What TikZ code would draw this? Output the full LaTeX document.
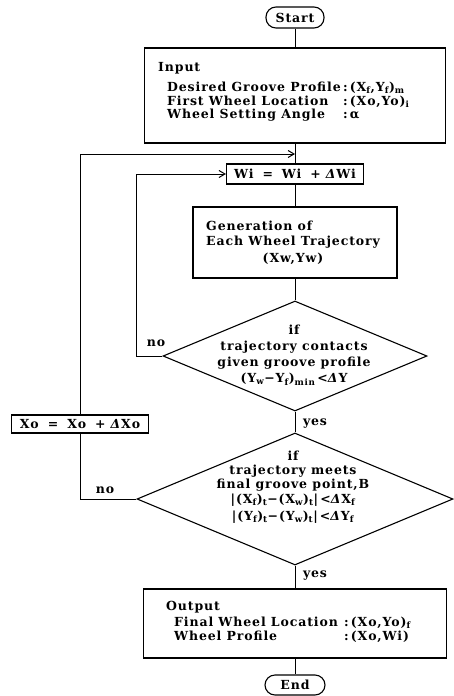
\documentclass[tikz,border=0pt]{standalone}
\usepackage{fontspec}
\setmainfont{DejaVu Serif}[LetterSpace=7]
\usetikzlibrary{shapes.geometric,arrows.meta,positioning}

\tikzset{
  chart/.style={font=\bfseries\fontsize{12.5}{15}\selectfont},
  box/.style={draw, line width=1.1pt, inner sep=0pt},
  term/.style={box, rounded corners=10pt},
  decide/.style={draw, line width=1.1pt, diamond, inner sep=0pt},
  txt/.style={inner sep=0pt, text height=9pt, text depth=2.5pt},
  link/.style={line width=1pt},
  back/.style={link, -{Straight Barb[length=6pt,width=7pt]}},
}

\begin{document}
\begin{tikzpicture}[x=1pt, y=-1pt, chart]
  \useasboundingbox (0,0) rectangle (454,696);

  % terminals and boxes
  \node[term, minimum width=58pt, minimum height=21pt] (start) at (295,17.5) {Start};
  \node[box, minimum width=301pt, minimum height=95pt] (input) at (295,95.5) {};
  \node[box, minimum width=137pt, minimum height=20pt] (wi) at (295,174) {Wi\hspace{9pt}=\hspace{9pt}Wi\hspace{9pt}+\hspace{5pt}\textit{Δ}Wi};
  \node[box, minimum width=204pt, minimum height=71pt] (gen) at (295,242.5) {};
  \node[decide, minimum width=264pt, minimum height=110pt] (contact) at (295,356) {};
  \node[box, minimum width=137pt, minimum height=18pt] (xo) at (80,424) {Xo\hspace{9pt}=\hspace{9pt}Xo\hspace{9pt}+\hspace{5pt}\textit{Δ}Xo};
  \node[decide, minimum width=316pt, minimum height=132pt] (meet) at (295,499) {};
  \node[box, minimum width=303pt, minimum height=69pt] (output) at (295,623.5) {};
  \node[term, minimum width=60pt, minimum height=20pt] (finish) at (295,685) {End};

  % texts in the boxes
  \node[txt, anchor=west] (intitle) at (158,68) {Input};
  \node[txt, anchor=west] (in1) at (167,88) {\makebox[176pt][l]{Desired Groove Profile}:\,(X\textsubscript{f},Y\textsubscript{f})\textsubscript{m}};
  \node[txt, anchor=west] (in2) at (167,102) {\makebox[176pt][l]{First Wheel Location}:\,(Xo,Yo)\textsubscript{i}};
  \node[txt, anchor=west] (in3) at (167,115) {\makebox[176pt][l]{Wheel Setting Angle}:\,α};

  \node[txt, anchor=west] (gen1) at (206,227) {Generation of};
  \node[txt, anchor=west] (gen2) at (206,242) {Each Wheel Trajectory};
  \node[txt] (gen3) at (293,259) {(Xw,Yw)};

  \node[align=center, inner sep=0pt, font=\bfseries\fontsize{12.5}{16}\selectfont] (contacttxt) at (294,355)
    {if\\trajectory contacts\\given groove profile\\(Y\textsubscript{w}−Y\textsubscript{f})\textsubscript{min}\,<\textit{Δ}Y};
  \node[align=center, inner sep=0pt, font=\bfseries\fontsize{12.5}{14}\selectfont] (meettxt) at (293,487)
    {if\\trajectory meets\\final groove point,B\\[1pt]
     |(X\textsubscript{f})\textsubscript{t}−(X\textsubscript{w})\textsubscript{t}|\,<\textit{Δ}X\textsubscript{f}\\[3pt]
     |(Y\textsubscript{f})\textsubscript{t}−(Y\textsubscript{w})\textsubscript{t}|\,<\textit{Δ}Y\textsubscript{f}};

  \node[txt, anchor=west] (outtitle) at (166,607) {Output};
  \node[txt, anchor=west] (out1) at (174,623) {\makebox[170pt][l]{Final Wheel Location}:\,(Xo,Yo)\textsubscript{f}};
  \node[txt, anchor=west] (out2) at (174,637) {\makebox[170pt][l]{Wheel Profile}:\,(Xo,Wi)};

  % branch labels
  \node[txt] (no1) at (156,343) {no};
  \node[txt] (yes1) at (315,422) {yes};
  \node[txt] (no2) at (105,490) {no};
  \node[txt] (yes2) at (315,574) {yes};

  % connectors
  \coordinate (join) at (295,154);
  \draw[link] (start) -- (input);
  \draw[link] (input) -- (wi);
  \draw[link] (wi) -- (gen);
  \draw[link] (gen) -- (contact);
  \draw[link] (contact) -- (meet);
  \draw[link] (meet) -- (output);
  \draw[link] (output) -- (finish);
  \draw[back] (contact.west) -- ++(-26,0) |- (wi.west);
  \draw[link] (meet.west) -| (xo.south);
  \draw[back] (xo.north) |- (join);
\end{tikzpicture}
\end{document}
